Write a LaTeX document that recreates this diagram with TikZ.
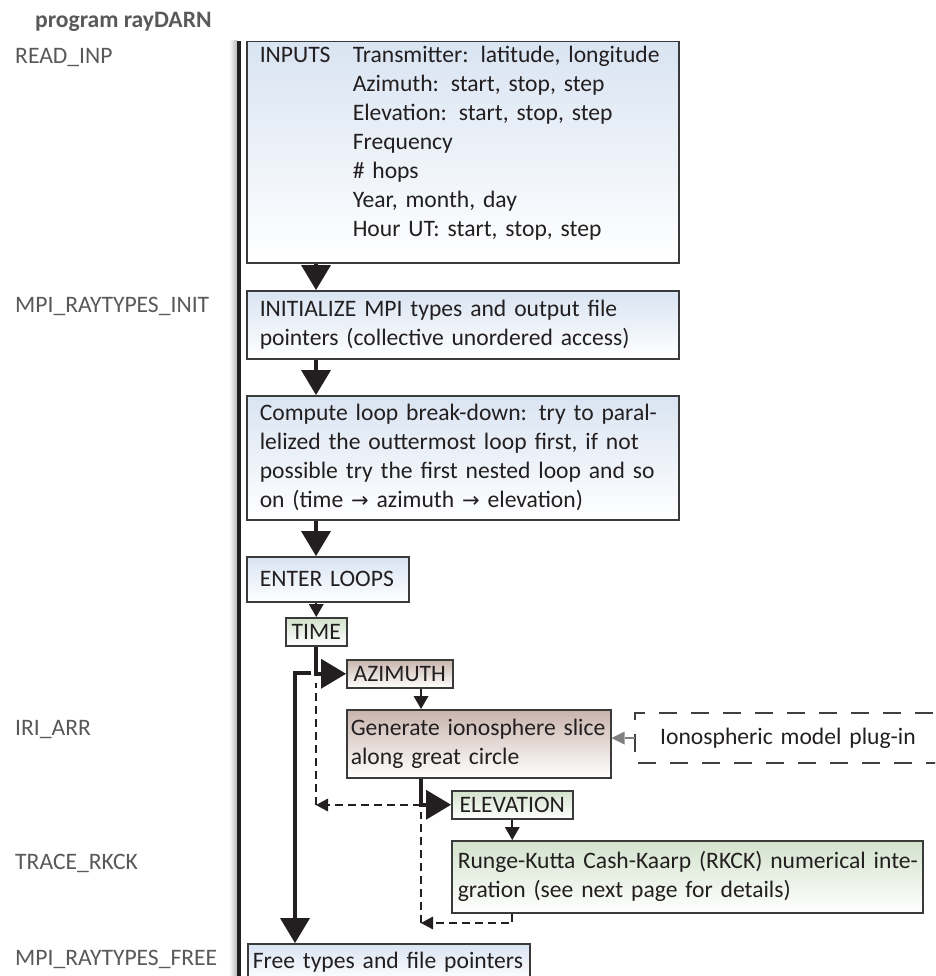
\documentclass[tikz,border=0pt]{standalone}
\usepackage{fontspec}
\setmainfont{Carlito}
\newfontfamily\symfont{DejaVu Sans}
\usetikzlibrary{arrows.meta}
\definecolor{ink}{HTML}{231F20}
\definecolor{lblc}{HTML}{595959}
\definecolor{edgec}{HTML}{3A3A3A}
\definecolor{blueT}{HTML}{D9E4F2}
\definecolor{greenT}{HTML}{D3E2CC}
\definecolor{brownT}{HTML}{C8B4AC}
\definecolor{plugc}{HTML}{404040}
\begin{document}
\begin{tikzpicture}[x=1pt,y=-1pt,
  font=\fontsize{23.6}{29}\selectfont,
  box/.style={draw=edgec, line width=1.5pt, anchor=north west, align=left, inner ysep=0pt, text=ink},
  bluebox/.style={box, top color=blueT, bottom color=white},
  greenbox/.style={box, top color=greenT, bottom color=white},
  brownbox/.style={box, top color=brownT, bottom color=white},
  tagbox/.style={inner sep=0pt, align=center, minimum height=28pt},
  lbl/.style={anchor=base west, inner sep=0pt, text=lblc},
  bigarr/.style={line width=4pt, draw=ink, -{Triangle[width=30pt,length=25pt,line width=0pt]}},
  smallarr/.style={line width=2pt, draw=ink, -{Triangle[width=15pt,length=13pt,line width=0pt]}},
  dashln/.style={line width=1.5pt, draw=ink, dash pattern=on 8pt off 5pt},
  dasharr/.style={dashln, -{Triangle[width=13pt,length=12pt,line width=0pt]}},
  grayarr/.style={line width=2.5pt, draw=gray, -{Triangle[width=13pt,length=13pt,line width=0pt]}},
  dashbox/.style={line width=1.5pt, draw=plugc, dash pattern=on 18pt off 14pt}
]
\useasboundingbox (0,0) rectangle (935,976);
\begin{scope}
\clip (0,0) rectangle (935,976);

% left labels
\node[lbl, font=\fontsize{23.6}{29}\selectfont\bfseries] (title) at (35,27.5) {program rayDARN};
\node[lbl] (lread) at (15,63.5) {READ\_INP};
\node[lbl] (linit) at (15,312.5) {MPI\_RAYTYPES\_INIT};
\node[lbl] (liri) at (15,735.5) {IRI\_ARR};
\node[lbl] (ltrace) at (15,869.5) {TRACE\_RKCK};
\node[lbl] (lfree) at (15,965.5) {MPI\_RAYTYPES\_FREE};

% spine
\coordinate (spineTop) at (239,41);
\coordinate (spineBot) at (239,985);
\shade[left color=white, right color=gray!55] (229,41) rectangle (237.2,985);
\draw[line width=3.5pt, ink] (spineTop) -- (spineBot);

% boxes
\node[bluebox, text width=406pt, inner xsep=13pt, minimum height=221pt] (inputs) at (246,41)
 {\begin{tabular}{@{}p{93pt}@{}l@{}}
 INPUTS & Transmitter: latitude, longitude\\
 & Azimuth: start, stop, step\\
 & Elevation: start, stop, step\\
 & Frequency\\
 & \# hops\\
 & Year, month, day\\
 & Hour UT: start, stop, step\\[18pt]
 \end{tabular}};
\node[bluebox, text width=406pt, inner xsep=13pt, minimum height=68pt] (init) at (246,290)
 {INITIALIZE MPI types and output file\\pointers (collective unordered access)};
\node[bluebox, text width=406pt, inner xsep=13pt, minimum height=124pt] (compute) at (246,395)
 {\mbox{Compute loop break-down: try to paral-}\\lelized the outtermost loop first, if not\\possible try the first nested loop and so\\on (time {\symfont\fontsize{21}{29}\selectfont →} azimuth {\symfont\fontsize{21}{29}\selectfont →} elevation)};
\node[bluebox, text width=136pt, inner xsep=13pt, minimum height=45pt] (enter) at (246,556) {ENTER LOOPS};
\node[greenbox, tagbox, minimum width=61pt] (time) at (285,617) {TIME};
\node[brownbox, tagbox, minimum width=106pt] (azimuth) at (346,659) {AZIMUTH};
\node[brownbox, text width=256pt, inner xsep=4pt, minimum height=68pt] (generate) at (346,709)
 {Generate ionosphere slice\\along great circle};
\node[greenbox, tagbox, minimum width=121pt] (elevation) at (451,790) {ELEVATION};
\node[greenbox, text width=459pt, inner xsep=6pt, minimum height=72pt] (rkck) at (451,840)
 {\mbox{Runge-Kutta Cash-Kaarp (RKCK) numerical inte-}\\gration (see next page for details)};
\node[bluebox, text width=272pt, inner xsep=5pt, minimum height=37pt] (free) at (247,943) {Free types and file pointers};

% plug-in
\node[anchor=west, text width=280pt, inner xsep=25pt, minimum height=50pt, align=left, text=ink] (iono) at (635,738) {Ionospheric model plug-in};
\draw[dashbox] (iono.north east) -- (iono.north west) -- (iono.south west) -- (iono.south east);
\draw[grayarr] (iono.west) -- (iono.west -| generate.east);

% main flow
\draw[bigarr] ([xshift=70pt]inputs.south west) -- ([xshift=70pt]init.north west);
\draw[bigarr] ([xshift=70pt]init.south west) -- ([xshift=70pt]compute.north west);
\draw[bigarr] ([xshift=70pt]compute.south west) -- ([xshift=70pt]enter.north west);
\draw[smallarr] (time.north |- enter.south) -- (time.north);
\draw[bigarr] (time.south) |- (azimuth.west);
\draw[smallarr] ([xshift=75pt]azimuth.south west) -- ([xshift=75pt]generate.north west);
\draw[bigarr] ([xshift=75pt]generate.south west) |- (elevation.west);
\draw[smallarr] (elevation.south) -- (elevation.south |- rkck.north);

% loop exit
\coordinate (exit) at (311,673);
\draw[bigarr] (exit) -| ([xshift=48pt]free.north west);

% dashed returns
\coordinate (rkret) at (421,923);
\coordinate (elvdash) at (421,812);
\coordinate (elbend) at (421,805);
\coordinate (azret) at (316,805);
\coordinate (azdashtop) at (316,683);
\draw[dasharr] ([xshift=61pt]rkck.south west) |- (rkret);
\draw[dashln] (rkret) -- (elvdash);
\draw[dasharr] (elbend) -- (azret);
\draw[dashln] (azret) -- (azdashtop);
\end{scope}
\end{tikzpicture}
\end{document}
